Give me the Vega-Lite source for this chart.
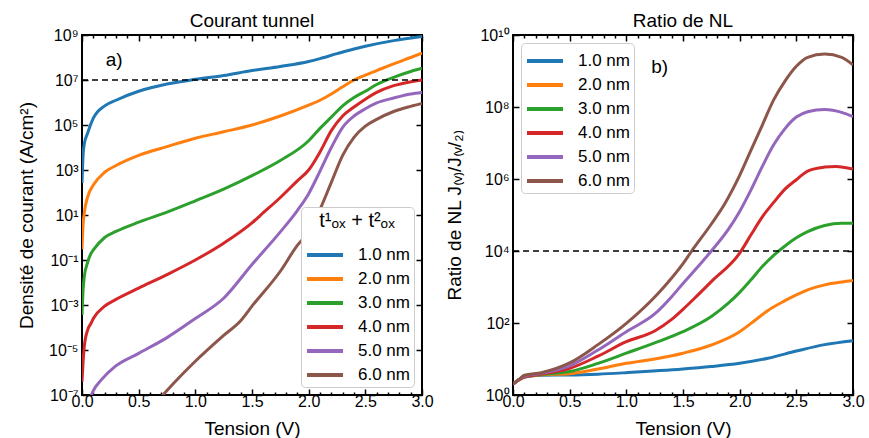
{
  "$schema": "https://vega.github.io/schema/vega-lite/v6.json",
  "background": "white",
  "padding": {"left": 16, "top": 11, "right": 2, "bottom": 0},
  "config": {
    "font": "Liberation Sans",
    "view": {"stroke": "black", "strokeWidth": 2},
    "axis": {"grid": false, "domain": false, "tickColor": "black", "tickWidth": 1.5, "labelFont": "Liberation Sans", "labelFontSize": 16, "labelColor": "black", "titleFont": "Liberation Sans", "titleFontSize": 19, "titleFontWeight": "normal", "titleColor": "black", "labelOverlap": false, "labelFlush": false},
    "title": {"fontSize": 19, "fontWeight": "normal", "color": "black", "offset": -4, "font": "Liberation Sans"},
    "legend": {"fillColor": "white", "strokeColor": "#cccccc", "cornerRadius": 4, "padding": 4, "labelFontSize": 17, "labelColor": "black", "labelFont": "Liberation Sans", "symbolStrokeWidth": 4, "rowPadding": 2, "offset": 8}
  },
  "datasets": {
    "J": [
      {"t": "1.0 nm", "V": 0, "J": 263}, {"t": "1.0 nm", "V": 0.01, "J": 5000}, {"t": "1.0 nm", "V": 0.02, "J": 14100}, {"t": "1.0 nm", "V": 0.05, "J": 43700}, {"t": "1.0 nm", "V": 0.1, "J": 2.0e5}, {"t": "1.0 nm", "V": 0.2, "J": 7.08e5}, {"t": "1.0 nm", "V": 0.3, "J": 1.26e6}, {"t": "1.0 nm", "V": 0.5, "J": 3.16e6}, {"t": "1.0 nm", "V": 0.75, "J": 6.6e6}, {"t": "1.0 nm", "V": 1.0, "J": 1.07e7}, {"t": "1.0 nm", "V": 1.25, "J": 1.58e7}, {"t": "1.0 nm", "V": 1.5, "J": 2.63e7}, {"t": "1.0 nm", "V": 1.75, "J": 3.98e7}, {"t": "1.0 nm", "V": 2.0, "J": 6.6e7}, {"t": "1.0 nm", "V": 2.1, "J": 8.9e7}, {"t": "1.0 nm", "V": 2.25, "J": 1.48e8}, {"t": "1.0 nm", "V": 2.4, "J": 2.4e8}, {"t": "1.0 nm", "V": 2.5, "J": 3.16e8}, {"t": "1.0 nm", "V": 2.75, "J": 5.62e8}, {"t": "1.0 nm", "V": 3.0, "J": 8.5e8},
      {"t": "2.0 nm", "V": 0, "J": 0.3}, {"t": "2.0 nm", "V": 0.01, "J": 3.98}, {"t": "2.0 nm", "V": 0.02, "J": 12.3}, {"t": "2.0 nm", "V": 0.05, "J": 64.6}, {"t": "2.0 nm", "V": 0.1, "J": 214}, {"t": "2.0 nm", "V": 0.2, "J": 794}, {"t": "2.0 nm", "V": 0.3, "J": 1585}, {"t": "2.0 nm", "V": 0.5, "J": 4467}, {"t": "2.0 nm", "V": 0.75, "J": 1.1e4}, {"t": "2.0 nm", "V": 1.0, "J": 2.57e4}, {"t": "2.0 nm", "V": 1.25, "J": 5.01e4}, {"t": "2.0 nm", "V": 1.5, "J": 1.0e5}, {"t": "2.0 nm", "V": 1.75, "J": 2.51e5}, {"t": "2.0 nm", "V": 2.0, "J": 7.59e5}, {"t": "2.0 nm", "V": 2.1, "J": 1.26e6}, {"t": "2.0 nm", "V": 2.2, "J": 2.4e6}, {"t": "2.0 nm", "V": 2.3, "J": 5.01e6}, {"t": "2.0 nm", "V": 2.4, "J": 1.0e7}, {"t": "2.0 nm", "V": 2.5, "J": 1.66e7}, {"t": "2.0 nm", "V": 2.6, "J": 2.63e7}, {"t": "2.0 nm", "V": 2.75, "J": 5.25e7}, {"t": "2.0 nm", "V": 2.9, "J": 1.0e8}, {"t": "2.0 nm", "V": 3.0, "J": 1.55e8},
      {"t": "3.0 nm", "V": 0, "J": 3.6e-4}, {"t": "3.0 nm", "V": 0.01, "J": 5.0e-3}, {"t": "3.0 nm", "V": 0.02, "J": 1.8e-2}, {"t": "3.0 nm", "V": 0.05, "J": 7.9e-2}, {"t": "3.0 nm", "V": 0.08, "J": 0.2}, {"t": "3.0 nm", "V": 0.1, "J": 0.28}, {"t": "3.0 nm", "V": 0.2, "J": 1.0}, {"t": "3.0 nm", "V": 0.3, "J": 1.86}, {"t": "3.0 nm", "V": 0.5, "J": 4.79}, {"t": "3.0 nm", "V": 0.75, "J": 13.5}, {"t": "3.0 nm", "V": 1.0, "J": 42.7}, {"t": "3.0 nm", "V": 1.25, "J": 141}, {"t": "3.0 nm", "V": 1.5, "J": 562}, {"t": "3.0 nm", "V": 1.75, "J": 2630}, {"t": "3.0 nm", "V": 2.0, "J": 2.0e4}, {"t": "3.0 nm", "V": 2.1, "J": 7.08e4}, {"t": "3.0 nm", "V": 2.2, "J": 2.24e5}, {"t": "3.0 nm", "V": 2.3, "J": 7.08e5}, {"t": "3.0 nm", "V": 2.4, "J": 1.66e6}, {"t": "3.0 nm", "V": 2.5, "J": 3.16e6}, {"t": "3.0 nm", "V": 2.6, "J": 6.31e6}, {"t": "3.0 nm", "V": 2.75, "J": 1.32e7}, {"t": "3.0 nm", "V": 2.9, "J": 2.4e7}, {"t": "3.0 nm", "V": 3.0, "J": 3.31e7},
      {"t": "4.0 nm", "V": 0, "J": 3.9e-7}, {"t": "4.0 nm", "V": 0.01, "J": 3.16e-6}, {"t": "4.0 nm", "V": 0.02, "J": 1.41e-5}, {"t": "4.0 nm", "V": 0.05, "J": 7.8e-5}, {"t": "4.0 nm", "V": 0.08, "J": 1.55e-4}, {"t": "4.0 nm", "V": 0.1, "J": 2.5e-4}, {"t": "4.0 nm", "V": 0.2, "J": 8.9e-4}, {"t": "4.0 nm", "V": 0.3, "J": 1.78e-3}, {"t": "4.0 nm", "V": 0.5, "J": 5.6e-3}, {"t": "4.0 nm", "V": 0.75, "J": 2.24e-2}, {"t": "4.0 nm", "V": 1.0, "J": 0.1}, {"t": "4.0 nm", "V": 1.25, "J": 0.56}, {"t": "4.0 nm", "V": 1.5, "J": 4.47}, {"t": "4.0 nm", "V": 1.6, "J": 12.6}, {"t": "4.0 nm", "V": 1.75, "J": 60}, {"t": "4.0 nm", "V": 1.9, "J": 331}, {"t": "4.0 nm", "V": 2.0, "J": 1000}, {"t": "4.0 nm", "V": 2.1, "J": 6310}, {"t": "4.0 nm", "V": 2.2, "J": 5.6e4}, {"t": "4.0 nm", "V": 2.3, "J": 2.51e5}, {"t": "4.0 nm", "V": 2.4, "J": 6.31e5}, {"t": "4.0 nm", "V": 2.5, "J": 1.41e6}, {"t": "4.0 nm", "V": 2.6, "J": 2.82e6}, {"t": "4.0 nm", "V": 2.75, "J": 5.6e6}, {"t": "4.0 nm", "V": 2.9, "J": 8.3e6}, {"t": "4.0 nm", "V": 3.0, "J": 1.0e7},
      {"t": "5.0 nm", "V": 0.06, "J": 5.0e-8}, {"t": "5.0 nm", "V": 0.1, "J": 1.58e-7}, {"t": "5.0 nm", "V": 0.17, "J": 4.7e-7}, {"t": "5.0 nm", "V": 0.29, "J": 1.82e-6}, {"t": "5.0 nm", "V": 0.5, "J": 7.1e-6}, {"t": "5.0 nm", "V": 0.75, "J": 3.55e-5}, {"t": "5.0 nm", "V": 1.0, "J": 2.51e-4}, {"t": "5.0 nm", "V": 1.25, "J": 2.0e-3}, {"t": "5.0 nm", "V": 1.5, "J": 6.3e-2}, {"t": "5.0 nm", "V": 1.75, "J": 1.78}, {"t": "5.0 nm", "V": 1.9, "J": 15.8}, {"t": "5.0 nm", "V": 2.0, "J": 89}, {"t": "5.0 nm", "V": 2.1, "J": 891}, {"t": "5.0 nm", "V": 2.2, "J": 1.0e4}, {"t": "5.0 nm", "V": 2.3, "J": 7.94e4}, {"t": "5.0 nm", "V": 2.4, "J": 2.51e5}, {"t": "5.0 nm", "V": 2.5, "J": 5.25e5}, {"t": "5.0 nm", "V": 2.6, "J": 9.55e5}, {"t": "5.0 nm", "V": 2.75, "J": 1.58e6}, {"t": "5.0 nm", "V": 2.9, "J": 2.4e6}, {"t": "5.0 nm", "V": 3.0, "J": 2.82e6},
      {"t": "6.0 nm", "V": 0.68, "J": 6.3e-8}, {"t": "6.0 nm", "V": 0.75, "J": 1.58e-7}, {"t": "6.0 nm", "V": 1.0, "J": 3.16e-6}, {"t": "6.0 nm", "V": 1.25, "J": 4.47e-5}, {"t": "6.0 nm", "V": 1.4, "J": 2.0e-4}, {"t": "6.0 nm", "V": 1.5, "J": 8.9e-4}, {"t": "6.0 nm", "V": 1.75, "J": 3.16e-2}, {"t": "6.0 nm", "V": 1.9, "J": 0.447}, {"t": "6.0 nm", "V": 2.0, "J": 1.78}, {"t": "6.0 nm", "V": 2.1, "J": 17.8}, {"t": "6.0 nm", "V": 2.2, "J": 282}, {"t": "6.0 nm", "V": 2.3, "J": 4467}, {"t": "6.0 nm", "V": 2.4, "J": 2.82e4}, {"t": "6.0 nm", "V": 2.5, "J": 8.9e4}, {"t": "6.0 nm", "V": 2.6, "J": 1.78e5}, {"t": "6.0 nm", "V": 2.75, "J": 3.98e5}, {"t": "6.0 nm", "V": 2.9, "J": 6.76e5}, {"t": "6.0 nm", "V": 3.0, "J": 9.1e5}
    ],
    "R": [
      {"t": "1.0 nm", "V": 0, "R": 2}, {"t": "1.0 nm", "V": 0.05, "R": 2.63}, {"t": "1.0 nm", "V": 0.1, "R": 3.16}, {"t": "1.0 nm", "V": 0.25, "R": 3.55}, {"t": "1.0 nm", "V": 0.5, "R": 3.6}, {"t": "1.0 nm", "V": 0.75, "R": 3.8}, {"t": "1.0 nm", "V": 1.0, "R": 4.17}, {"t": "1.0 nm", "V": 1.5, "R": 5.25}, {"t": "1.0 nm", "V": 1.75, "R": 6.17}, {"t": "1.0 nm", "V": 2.0, "R": 7.59}, {"t": "1.0 nm", "V": 2.25, "R": 10.5}, {"t": "1.0 nm", "V": 2.5, "R": 16.6}, {"t": "1.0 nm", "V": 2.75, "R": 25.1}, {"t": "1.0 nm", "V": 3.0, "R": 32.4},
      {"t": "2.0 nm", "V": 0, "R": 2}, {"t": "2.0 nm", "V": 0.05, "R": 2.63}, {"t": "2.0 nm", "V": 0.1, "R": 3.16}, {"t": "2.0 nm", "V": 0.25, "R": 3.63}, {"t": "2.0 nm", "V": 0.5, "R": 3.9}, {"t": "2.0 nm", "V": 0.75, "R": 5.25}, {"t": "2.0 nm", "V": 1.0, "R": 7.59}, {"t": "2.0 nm", "V": 1.25, "R": 10}, {"t": "2.0 nm", "V": 1.5, "R": 14.5}, {"t": "2.0 nm", "V": 1.75, "R": 24.5}, {"t": "2.0 nm", "V": 2.0, "R": 57.5}, {"t": "2.0 nm", "V": 2.1, "R": 97.7}, {"t": "2.0 nm", "V": 2.25, "R": 224}, {"t": "2.0 nm", "V": 2.4, "R": 417}, {"t": "2.0 nm", "V": 2.5, "R": 603}, {"t": "2.0 nm", "V": 2.6, "R": 832}, {"t": "2.0 nm", "V": 2.75, "R": 1148}, {"t": "2.0 nm", "V": 2.9, "R": 1380}, {"t": "2.0 nm", "V": 3.0, "R": 1514},
      {"t": "3.0 nm", "V": 0, "R": 2}, {"t": "3.0 nm", "V": 0.05, "R": 2.63}, {"t": "3.0 nm", "V": 0.1, "R": 3.16}, {"t": "3.0 nm", "V": 0.25, "R": 3.72}, {"t": "3.0 nm", "V": 0.5, "R": 4.47}, {"t": "3.0 nm", "V": 0.75, "R": 7.59}, {"t": "3.0 nm", "V": 1.0, "R": 14.5}, {"t": "3.0 nm", "V": 1.25, "R": 28}, {"t": "3.0 nm", "V": 1.5, "R": 57.5}, {"t": "3.0 nm", "V": 1.75, "R": 151}, {"t": "3.0 nm", "V": 1.9, "R": 355}, {"t": "3.0 nm", "V": 2.0, "R": 708}, {"t": "3.0 nm", "V": 2.1, "R": 1585}, {"t": "3.0 nm", "V": 2.2, "R": 3715}, {"t": "3.0 nm", "V": 2.3, "R": 7586}, {"t": "3.0 nm", "V": 2.4, "R": 1.38e4}, {"t": "3.0 nm", "V": 2.5, "R": 2.34e4}, {"t": "3.0 nm", "V": 2.6, "R": 3.47e4}, {"t": "3.0 nm", "V": 2.75, "R": 5.13e4}, {"t": "3.0 nm", "V": 2.9, "R": 5.89e4}, {"t": "3.0 nm", "V": 3.0, "R": 5.89e4},
      {"t": "4.0 nm", "V": 0, "R": 2}, {"t": "4.0 nm", "V": 0.05, "R": 2.63}, {"t": "4.0 nm", "V": 0.1, "R": 3.16}, {"t": "4.0 nm", "V": 0.25, "R": 3.8}, {"t": "4.0 nm", "V": 0.5, "R": 5.5}, {"t": "4.0 nm", "V": 0.75, "R": 12}, {"t": "4.0 nm", "V": 1.0, "R": 30.2}, {"t": "4.0 nm", "V": 1.25, "R": 60}, {"t": "4.0 nm", "V": 1.4, "R": 126}, {"t": "4.0 nm", "V": 1.5, "R": 240}, {"t": "4.0 nm", "V": 1.6, "R": 479}, {"t": "4.0 nm", "V": 1.75, "R": 1413}, {"t": "4.0 nm", "V": 2.0, "R": 8710}, {"t": "4.0 nm", "V": 2.1, "R": 2.82e4}, {"t": "4.0 nm", "V": 2.2, "R": 8.9e4}, {"t": "4.0 nm", "V": 2.3, "R": 2.24e5}, {"t": "4.0 nm", "V": 2.4, "R": 5.25e5}, {"t": "4.0 nm", "V": 2.5, "R": 9.55e5}, {"t": "4.0 nm", "V": 2.6, "R": 1.66e6}, {"t": "4.0 nm", "V": 2.75, "R": 2.14e6}, {"t": "4.0 nm", "V": 2.85, "R": 2.24e6}, {"t": "4.0 nm", "V": 3.0, "R": 1.9e6},
      {"t": "5.0 nm", "V": 0, "R": 2}, {"t": "5.0 nm", "V": 0.05, "R": 2.63}, {"t": "5.0 nm", "V": 0.1, "R": 3.31}, {"t": "5.0 nm", "V": 0.25, "R": 3.98}, {"t": "5.0 nm", "V": 0.5, "R": 6.46}, {"t": "5.0 nm", "V": 0.75, "R": 17.8}, {"t": "5.0 nm", "V": 1.0, "R": 57.5}, {"t": "5.0 nm", "V": 1.25, "R": 178}, {"t": "5.0 nm", "V": 1.4, "R": 537}, {"t": "5.0 nm", "V": 1.5, "R": 1259}, {"t": "5.0 nm", "V": 1.6, "R": 2818}, {"t": "5.0 nm", "V": 1.75, "R": 1e4}, {"t": "5.0 nm", "V": 1.9, "R": 3.98e4}, {"t": "5.0 nm", "V": 2.0, "R": 1.26e5}, {"t": "5.0 nm", "V": 2.1, "R": 5.01e5}, {"t": "5.0 nm", "V": 2.2, "R": 2.24e6}, {"t": "5.0 nm", "V": 2.3, "R": 8.9e6}, {"t": "5.0 nm", "V": 2.4, "R": 2.51e7}, {"t": "5.0 nm", "V": 2.5, "R": 5.25e7}, {"t": "5.0 nm", "V": 2.6, "R": 7.41e7}, {"t": "5.0 nm", "V": 2.75, "R": 8.5e7}, {"t": "5.0 nm", "V": 2.9, "R": 7.08e7}, {"t": "5.0 nm", "V": 3.0, "R": 5.37e7},
      {"t": "6.0 nm", "V": 0, "R": 2}, {"t": "6.0 nm", "V": 0.05, "R": 2.63}, {"t": "6.0 nm", "V": 0.1, "R": 3.55}, {"t": "6.0 nm", "V": 0.25, "R": 4.17}, {"t": "6.0 nm", "V": 0.5, "R": 7.76}, {"t": "6.0 nm", "V": 0.75, "R": 25.1}, {"t": "6.0 nm", "V": 1.0, "R": 97.7}, {"t": "6.0 nm", "V": 1.28, "R": 661}, {"t": "6.0 nm", "V": 1.4, "R": 1778}, {"t": "6.0 nm", "V": 1.5, "R": 4467}, {"t": "6.0 nm", "V": 1.57, "R": 9333}, {"t": "6.0 nm", "V": 1.75, "R": 5.62e4}, {"t": "6.0 nm", "V": 1.87, "R": 2.09e5}, {"t": "6.0 nm", "V": 2.0, "R": 1.26e6}, {"t": "6.0 nm", "V": 2.1, "R": 6.31e6}, {"t": "6.0 nm", "V": 2.2, "R": 3.16e7}, {"t": "6.0 nm", "V": 2.3, "R": 1.58e8}, {"t": "6.0 nm", "V": 2.4, "R": 5.25e8}, {"t": "6.0 nm", "V": 2.5, "R": 1.35e9}, {"t": "6.0 nm", "V": 2.6, "R": 2.4e9}, {"t": "6.0 nm", "V": 2.75, "R": 2.95e9}, {"t": "6.0 nm", "V": 2.9, "R": 2.4e9}, {"t": "6.0 nm", "V": 3.0, "R": 1.48e9}
    ]
  },
  "spacing": 9,
  "resolve": {"scale": {"color": "independent"}},
  "hconcat": [
    {
      "title": "Courant tunnel",
      "width": 340,
      "height": 360,
      "resolve": {"axis": {"x": "independent", "y": "independent"}},
      "layer": [
        {
          "data": {"name": "J"},
          "mark": {"type": "line", "strokeWidth": 3, "clip": true, "interpolate": "monotone"},
          "encoding": {
            "x": {"field": "V", "type": "quantitative", "scale": {"domain": [0, 3], "nice": false, "zero": false},
              "axis": {"orient": "bottom", "title": "Tension (V)", "titlePadding": 7, "values": [0,0.1,0.2,0.3,0.4,0.5,0.6,0.7,0.8,0.9,1,1.1,1.2,1.3,1.4,1.5,1.6,1.7,1.8,1.9,2,2.1,2.2,2.3,2.4,2.5,2.6,2.7,2.8,2.9,3],
                "labelExpr": "abs(datum.value*2-round(datum.value*2))<0.01 ? format(datum.value,'.1f') : ''",
                "tickSize": {"condition": {"test": "abs(datum.value*2-round(datum.value*2))<0.01", "value": -6}, "value": -3},
                "labelPadding": 4}},
            "y": {"field": "J", "type": "quantitative", "scale": {"type": "log", "domain": [1e-7, 1e9], "nice": false},
              "axis": {"orient": "left", "title": "Densité de courant (A/cm²)", "titlePadding": 12, "values": [1e-7,1e-5,1e-3,1e-1,10,1e3,1e5,1e7,1e9], "tickSize": -6, "labelPadding": 10,
                "labelExpr": "'10' + (round(log(datum.value)/LN10) < 0 ? '⁻' : '') + ['⁰','¹','²','³','⁴','⁵','⁶','⁷','⁸','⁹','¹⁰'][abs(round(log(datum.value)/LN10))]"}},
            "color": {"field": "t", "type": "nominal",
              "scale": {"domain": ["1.0 nm","2.0 nm","3.0 nm","4.0 nm","5.0 nm","6.0 nm"], "range": ["#1f77b4","#ff7f0e","#2ca02c","#d62728","#9467bd","#8c564b"]},
              "legend": {"title": "t¹ₒₓ + t²ₒₓ", "orient": "bottom-right", "titleFontSize": 20, "titleFontWeight": "normal", "titleColor": "black", "titleAnchor": "middle", "titlePadding": 10, "symbolType": "M-1,0H2", "symbolSize": 576, "labelOffset": 25, "symbolStrokeWidth": 4}}
          }
        },
        {
          "data": {"values": [{}]},
          "mark": {"type": "rule", "strokeDash": [6, 4], "color": "black", "strokeWidth": 1.5},
          "encoding": {
            "x": {"datum": 0, "type": "quantitative",
              "axis": {"orient": "top", "title": null, "labels": false, "values": [0,0.1,0.2,0.3,0.4,0.5,0.6,0.7,0.8,0.9,1,1.1,1.2,1.3,1.4,1.5,1.6,1.7,1.8,1.9,2,2.1,2.2,2.3,2.4,2.5,2.6,2.7,2.8,2.9,3],
                "tickSize": {"condition": {"test": "abs(datum.value*2-round(datum.value*2))<0.01", "value": -6}, "value": -3}}},
            "x2": {"datum": 3},
            "y": {"datum": 1e7, "type": "quantitative",
              "axis": {"orient": "right", "title": null, "labels": false, "values": [1e-7,1e-5,1e-3,1e-1,10,1e3,1e5,1e7,1e9], "tickSize": -6}}
          }
        },
        {
          "data": {"values": [{}]},
          "mark": {"type": "text", "text": "a)", "fontSize": 19, "align": "left", "baseline": "middle", "color": "black"},
          "encoding": {
            "x": {"datum": 0.21, "type": "quantitative", "axis": null},
            "y": {"datum": 7.8e7, "type": "quantitative", "axis": null}
          }
        }
      ]
    },
    {
      "title": "Ratio de NL",
      "width": 340,
      "height": 360,
      "resolve": {"axis": {"x": "independent", "y": "independent"}},
      "layer": [
        {
          "data": {"name": "R"},
          "mark": {"type": "line", "strokeWidth": 3, "clip": true, "interpolate": "monotone"},
          "encoding": {
            "x": {"field": "V", "type": "quantitative", "scale": {"domain": [0, 3], "nice": false, "zero": false},
              "axis": {"orient": "bottom", "title": "Tension (V)", "titlePadding": 7, "values": [0,0.1,0.2,0.3,0.4,0.5,0.6,0.7,0.8,0.9,1,1.1,1.2,1.3,1.4,1.5,1.6,1.7,1.8,1.9,2,2.1,2.2,2.3,2.4,2.5,2.6,2.7,2.8,2.9,3],
                "labelExpr": "abs(datum.value*2-round(datum.value*2))<0.01 ? format(datum.value,'.1f') : ''",
                "tickSize": {"condition": {"test": "abs(datum.value*2-round(datum.value*2))<0.01", "value": -6}, "value": -3},
                "labelPadding": 4}},
            "y": {"field": "R", "type": "quantitative", "scale": {"type": "log", "domain": [1, 1e10], "nice": false},
              "axis": {"orient": "left", "title": "Ratio de NL J₍ᵥ₎/J₍ᵥ/₂₎", "titlePadding": 15, "values": [1,1e2,1e4,1e6,1e8,1e10], "tickSize": -6, "labelPadding": 10,
                "labelExpr": "'10' + (round(log(datum.value)/LN10) < 0 ? '⁻' : '') + ['⁰','¹','²','³','⁴','⁵','⁶','⁷','⁸','⁹','¹⁰'][abs(round(log(datum.value)/LN10))]"}},
            "color": {"field": "t", "type": "nominal",
              "scale": {"domain": ["1.0 nm","2.0 nm","3.0 nm","4.0 nm","5.0 nm","6.0 nm"], "range": ["#1f77b4","#ff7f0e","#2ca02c","#d62728","#9467bd","#8c564b"]},
              "legend": {"title": null, "orient": "top-left", "symbolType": "M-1,0H2", "symbolSize": 576, "labelOffset": 25, "symbolStrokeWidth": 4}}
          }
        },
        {
          "data": {"values": [{}]},
          "mark": {"type": "rule", "strokeDash": [6, 4], "color": "black", "strokeWidth": 1.5},
          "encoding": {
            "x": {"datum": 0, "type": "quantitative",
              "axis": {"orient": "top", "title": null, "labels": false, "values": [0,0.1,0.2,0.3,0.4,0.5,0.6,0.7,0.8,0.9,1,1.1,1.2,1.3,1.4,1.5,1.6,1.7,1.8,1.9,2,2.1,2.2,2.3,2.4,2.5,2.6,2.7,2.8,2.9,3],
                "tickSize": {"condition": {"test": "abs(datum.value*2-round(datum.value*2))<0.01", "value": -6}, "value": -3}}},
            "x2": {"datum": 3},
            "y": {"datum": 1e4, "type": "quantitative",
              "axis": {"orient": "right", "title": null, "labels": false, "values": [1,1e2,1e4,1e6,1e8,1e10], "tickSize": -6}}
          }
        },
        {
          "data": {"values": [{}]},
          "mark": {"type": "text", "text": "b)", "fontSize": 19, "align": "left", "baseline": "middle", "color": "black"},
          "encoding": {
            "x": {"datum": 1.22, "type": "quantitative", "axis": null},
            "y": {"datum": 1.3e9, "type": "quantitative", "axis": null}
          }
        }
      ]
    }
  ]
}
